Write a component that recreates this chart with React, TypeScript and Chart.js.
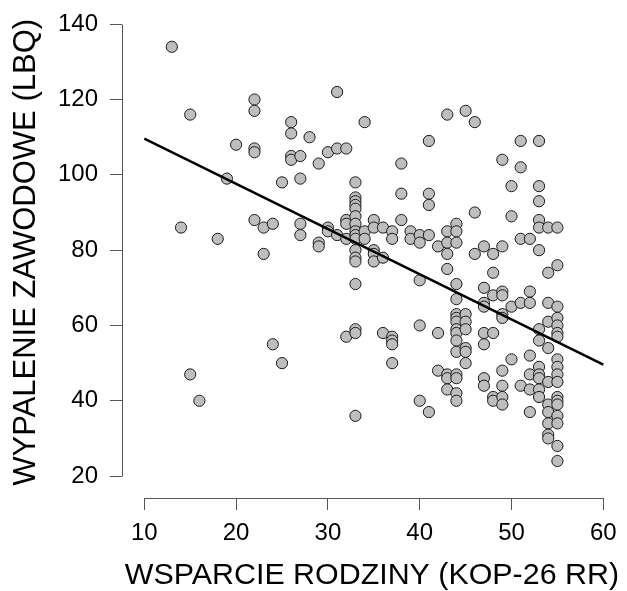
import React, { useEffect, useRef } from "react";
import { Chart, registerables } from "chart.js";

Chart.register(...registerables);

// WSPARCIE RODZINY (KOP-26 RR) – x values
const supportScores = [
  13, 15, 22, 22, 31, 26, 26, 28, 34, 20, 22, 22, 26, 26, 27, 29, 30, 31, 32,
  19, 25, 27, 14, 18, 22, 23, 24, 23, 27, 27, 29, 29, 30, 30, 31, 32, 32, 32, 32,
  33, 33, 33, 33, 33, 33, 33, 33, 33, 33, 33, 33, 33, 33, 33, 33, 33,
  34, 34, 35, 35, 35, 35, 35, 36, 36, 36, 24, 25, 15, 16,
  37, 37, 37, 37, 37, 37, 38, 38, 38, 39, 39, 40, 40, 40, 40, 40,
  41, 41, 41, 41, 41, 42, 42, 42,
  43, 43, 43, 43, 43, 43, 43, 43,
  44, 44, 44, 44, 44, 44, 44, 44, 44, 44, 44, 44, 44, 44, 44, 44,
  45, 45, 45, 45, 45, 45, 45,
  46, 46, 46,
  47, 47, 47, 47, 47, 47, 47, 47,
  48, 48, 48, 48, 48, 48,
  49, 49, 49, 49, 49, 49, 49, 49, 49, 49,
  50, 50, 50, 50,
  51, 51, 51, 51, 51,
  52, 52, 52, 52, 52, 52, 52,
  53, 53, 53, 53, 53, 53, 53, 53, 53, 53, 53, 53, 53,
  54, 54, 54, 54, 54, 54, 54, 54, 54, 54, 54,
  55, 55, 55, 55, 55, 55, 55, 55, 55, 55, 55, 55, 55, 55, 55, 55, 55, 55,
];

// WYPALENIE ZAWODOWE (LBQ) – y values
const burnoutScores = [
  134, 116, 120, 117, 122, 114, 111, 110, 114, 108, 107, 106, 105, 104, 105, 103, 106, 107, 107,
  99, 98, 99, 86, 83, 88, 86, 87, 79, 87, 84, 82, 81, 86, 85, 84, 88, 87, 83, 57,
  98, 94, 93, 92, 91, 89, 87, 85, 84, 83, 80, 78, 77, 71, 59, 58, 36,
  85, 83, 88, 86, 80, 79, 77, 86, 78, 58, 55, 50, 47, 40,
  85, 83, 57, 56, 55, 50, 103, 95, 88, 85, 83, 84, 82, 72, 60, 40,
  109, 95, 92, 84, 37, 81, 58, 48,
  116, 85, 82, 79, 75, 47, 46, 43,
  87, 85, 82, 71, 67, 63, 62, 61, 59, 58, 56, 53, 47, 46, 42, 40,
  117, 63, 61, 59, 54, 53, 50,
  114, 90, 79,
  81, 70, 66, 65, 58, 55, 46, 44,
  79, 74, 68, 58, 41, 40,
  104, 81, 69, 68, 63, 62, 48, 44, 41, 39,
  97, 89, 65, 51,
  109, 102, 83, 66, 44,
  83, 69, 66, 52, 47, 43, 37,
  109, 97, 93, 88, 86, 80, 59, 56, 49, 47, 46, 43, 41,
  86, 74, 66, 61, 54, 45, 39, 37, 34, 31, 30,
  86, 76, 65, 62, 60, 58, 57, 51, 49, 47, 45, 41, 40, 39, 36, 34, 28, 24,
];

// Regression line end points
const fitX = [10, 60];
const fitY = [109.6, 49.6];

const xTicks = [10, 20, 30, 40, 50, 60];
const yTicks = [20, 40, 60, 80, 100, 120, 140];

const xTitle = "WSPARCIE RODZINY (KOP-26 RR)";
const yTitle = "WYPALENIE ZAWODOWE (LBQ)";

const FONT = "'Liberation Sans', Arial, Helvetica, sans-serif";

export default function App() {
  const ref = useRef<HTMLCanvasElement | null>(null);

  useEffect(() => {
    const canvas = ref.current;
    if (!canvas) return;

    const axisLines = {
      id: "axisLines",
      afterDraw(chart: any) {
        const { ctx, chartArea, scales } = chart;
        const xs = scales.x;
        const ys = scales.y;
        ctx.save();
        ctx.strokeStyle = "#555";
        ctx.lineWidth = 1;
        ctx.beginPath();
        const by = Math.round(chartArea.bottom) + 0.5;
        ctx.moveTo(Math.round(xs.getPixelForValue(xTicks[0])) + 0.5, by);
        ctx.lineTo(Math.round(xs.getPixelForValue(xTicks[xTicks.length - 1])) + 0.5, by);
        const lx = Math.round(chartArea.left) + 0.5;
        ctx.moveTo(lx, Math.round(ys.getPixelForValue(yTicks[0])) + 0.5);
        ctx.lineTo(lx, Math.round(ys.getPixelForValue(yTicks[yTicks.length - 1])) + 0.5);
        ctx.stroke();
        ctx.restore();
      },
    };

    const points = supportScores.map((x, i) => ({ x, y: burnoutScores[i] }));
    const fit = fitX.map((x, i) => ({ x, y: fitY[i] }));

    const chart = new Chart(canvas, {
      type: "scatter",
      data: {
        datasets: [
          {
            type: "line",
            data: fit,
            borderColor: "#000",
            borderWidth: 2.5,
            pointRadius: 0,
            showLine: true,
            fill: false,
            order: 0,
          } as any,
          {
            type: "scatter",
            data: points,
            backgroundColor: "#bebebe",
            borderColor: "#1a1a1a",
            borderWidth: 1,
            pointRadius: 5.6,
            order: 1,
          },
        ],
      },
      options: {
        responsive: false,
        animation: false,
        layout: { padding: { left: 0, right: 8, top: 5, bottom: 0 } },
        plugins: {
          legend: { display: false },
          tooltip: { enabled: false },
        },
        scales: {
          x: {
            type: "linear",
            min: 7.57,
            max: 61.71,
            afterBuildTicks: (s: any) => {
              s.ticks = xTicks.map((v) => ({ value: v }));
            },
            afterFit: (s: any) => {
              s.height = 93;
            },
            ticks: {
              color: "#000",
              font: { family: FONT, size: 24 },
              padding: 9,
              autoSkip: false,
              maxRotation: 0,
            },
            grid: {
              drawOnChartArea: false,
              drawTicks: true,
              tickLength: 12,
              color: "#555",
              lineWidth: 1,
            },
            border: { display: false },
            title: {
              display: true,
              text: xTitle,
              align: "end",
              color: "#000",
              font: { family: FONT, size: 30.4, lineHeight: 1 },
              padding: { top: 0, bottom: 0 },
            },
          },
          y: {
            type: "linear",
            min: 14.18,
            max: 144.68,
            afterBuildTicks: (s: any) => {
              s.ticks = yTicks.map((v) => ({ value: v }));
            },
            afterFit: (s: any) => {
              s.width = 122;
              s.paddingTop = 0;
              s.paddingBottom = 0;
            },
            ticks: {
              color: "#000",
              font: { family: FONT, size: 24 },
              padding: 12,
              autoSkip: false,
            },
            grid: {
              drawOnChartArea: false,
              drawTicks: true,
              tickLength: 12,
              color: "#555",
              lineWidth: 1,
            },
            border: { display: false },
            title: {
              display: true,
              text: yTitle,
              color: "#000",
              font: { family: FONT, size: 31, lineHeight: 1 },
              padding: { top: 11, bottom: 0 },
            },
          },
        },
      },
      plugins: [axisLines],
    });

    return () => {
      chart.destroy();
    };
  }, []);

  return (
    <div style={{ position: "absolute", left: 0, top: 0, width: 627, height: 591 }}>
      <canvas ref={ref} width={627} height={591} style={{ display: "block" }} />
    </div>
  );
}
